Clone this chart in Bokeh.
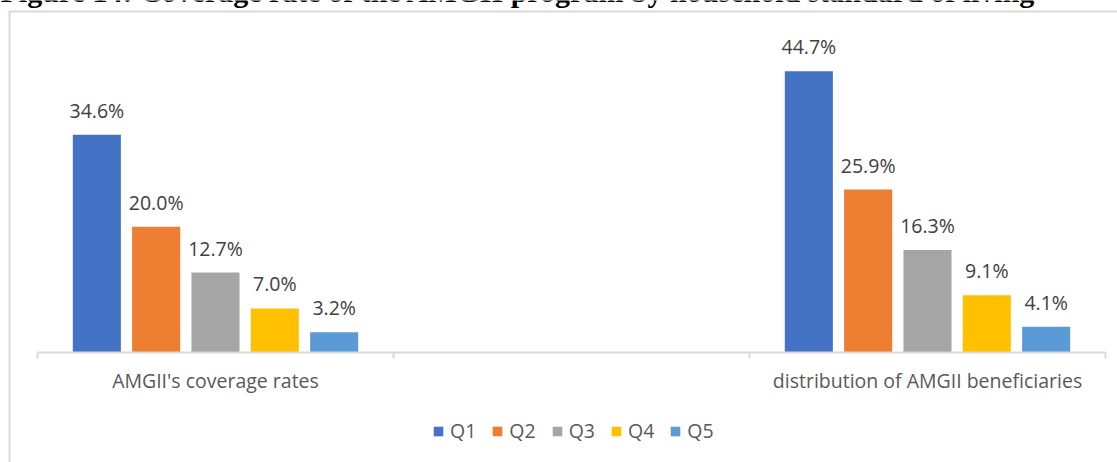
from bokeh.plotting import figure
from bokeh.models import (ColumnDataSource, Range1d, LinearAxis, FixedTicker,
                          Legend, LegendItem, Label, BoxAnnotation)
from bokeh.core.properties import value
from bokeh.embed import file_html
from bokeh.resources import INLINE

# ---- data ----
title_text = "Figure 14: Coverage rate of the AMGII program by household standard of living"
categories = ["AMGII's coverage rates", "distribution of AMGII beneficiaries"]
cat_slot = [0, 2]          # slot index on a 3-slot category axis (middle slot empty)
n_slots = 3
series = ["Q1", "Q2", "Q3", "Q4", "Q5"]
q1 = [34.6, 44.7]
q2 = [20.0, 25.9]
q3 = [12.7, 16.3]
q4 = [7.0, 9.1]
q5 = [3.2, 4.1]
values = [q1, q2, q3, q4, q5]
colors = ["#4472C4", "#ED7D31", "#A5A5A5", "#FFC000", "#5B9BD5"]

FONT = "Open Sans"
FS = "19.5px"

W, H = 1117, 462
slot_px = 356.0
left_px = 37.0
axis_y = 352
px_per_unit = 6.29

p = figure(width=W, height=H, output_backend="svg", toolbar_location=None,
           x_range=Range1d(-left_px / slot_px, (W - left_px) / slot_px),
           y_range=Range1d(-(H - axis_y) / px_per_unit, axis_y / px_per_unit),
           x_axis_location=None, y_axis_location=None,
           min_border=0, margin=(0, 0, 0, 0))
p.outline_line_color = None
p.xgrid.visible = False
p.ygrid.visible = False
p.background_fill_color = "white"
p.border_fill_color = "white"

# chart area border (Excel chart frame)
p.add_layout(BoxAnnotation(left=9, right=3000, top=H - 11, bottom=-500,
                           left_units="screen", right_units="screen",
                           top_units="screen", bottom_units="screen",
                           fill_alpha=0, line_color="#d9d9d9", line_alpha=1.0,
                           line_width=2, level="underlay"))

step = 1.0 / 6.0
bar_w = 0.135
items = []
for i, (name, vals, col) in enumerate(zip(series, values, colors)):
    xs = [s + 0.5 + (i - 2) * step for s in cat_slot]
    src = ColumnDataSource(dict(x=xs, top=vals, lab=[f"{v:.1f}%" for v in vals]))
    r = p.vbar(x="x", top="top", bottom=0, width=bar_w, source=src,
               fill_color=col, line_color=None)
    p.text(x="x", y="top", text="lab", source=src, text_align="center",
           text_baseline="alphabetic", y_offset=-24.5, text_font=value(FONT),
           text_font_size=value(FS), text_color="#404040")
    items.append(LegendItem(label=name, renderers=[r]))

# x axis drawn at y = 0: ticks between categories, labels at category centres
centers = [s + 0.5 for s in cat_slot]
ax = LinearAxis(ticker=FixedTicker(ticks=centers, minor_ticks=list(range(n_slots + 1))),
                bounds=(0, n_slots), fixed_location=0)
ax.major_label_overrides = {c: lab for c, lab in zip(centers, categories)}
ax.axis_line_color = "#d9d9d9"
ax.axis_line_width = 2
ax.major_tick_line_color = None
ax.major_tick_out = 0
ax.major_tick_in = 0
ax.minor_tick_line_color = "#d9d9d9"
ax.minor_tick_line_width = 2
ax.minor_tick_out = 6
ax.minor_tick_in = 0
ax.major_label_standoff = 8
ax.major_label_text_font = FONT
ax.major_label_text_font_size = FS
ax.major_label_text_color = "#595959"
p.add_layout(ax, "below")

legend = Legend(items=items, orientation="horizontal", location=(432, 18),
                padding=0, margin=0, spacing=15, glyph_width=12, glyph_height=12,
                label_standoff=6, label_text_font=FONT, label_text_font_size=FS,
                label_text_color="#595959", border_line_color=None,
                background_fill_alpha=0)
p.add_layout(legend, "center")

p.add_layout(Label(x=0, y=H + 9, x_units="screen", y_units="screen",
                   text=title_text, text_font="Liberation Serif",
                   text_font_style="bold", text_font_size="30px",
                   text_color="black", text_baseline="alphabetic"))

open("out.html", "w").write(file_html(p, INLINE))
